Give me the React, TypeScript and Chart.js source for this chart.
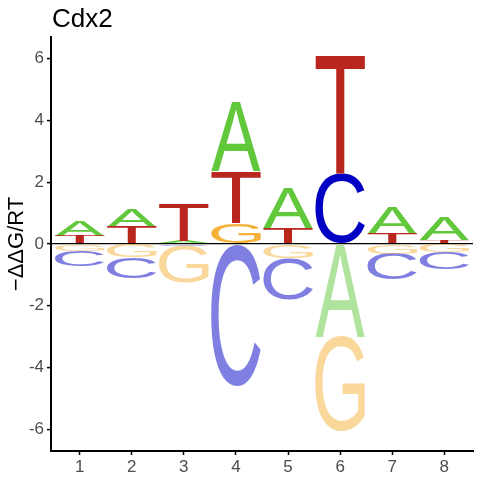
import { useEffect, useRef } from "react";
import { Chart, registerables } from "chart.js";

Chart.register(...registerables);

// positions along the motif
const positions = [1, 2, 3, 4, 5, 6, 7, 8];
const letters = ["A", "C", "G", "T"];

// -ddG/RT per base at each position
const aVals = [0.49, 0.59, 0.1, 2.26, 1.29, -3.02, 0.86, 0.74];
const cVals = [-0.51, -0.69, -0.08, -4.58, -1.33, 2.26, -0.84, -0.56];
const gVals = [-0.22, -0.43, -1.17, 0.67, -0.46, -3.05, -0.32, -0.27];
const tVals = [0.26, 0.56, 1.19, 1.67, 0.51, 3.83, 0.33, 0.11];

const yTicks = [-6, -4, -2, 0, 2, 4, 6];

const valuesByLetter: Record<string, number[]> = { A: aVals, C: cVals, G: gVals, T: tVals };
const letterColors: Record<string, string> = {
  A: "97,200,59",
  C: "0,0,196",
  G: "245,178,58",
  T: "184,38,30",
};

const FONT = '"Liberation Sans", Arial, sans-serif';

// stack letters: smallest magnitude next to zero, on each side
function stackRanges(letter: string) {
  return positions.map((p, i) => {
    const v = valuesByLetter[letter][i];
    const same = letters
      .map((l) => ({ l, v: valuesByLetter[l][i] }))
      .filter((c) => Math.sign(c.v) === Math.sign(v))
      .sort((a, b) => Math.abs(a.v) - Math.abs(b.v));
    let acc = 0;
    for (const c of same) {
      if (c.l === letter) break;
      acc += c.v;
    }
    return { x: p, y: [acc, acc + v] };
  });
}

const logoPlugin = {
  id: "logoLetters",
  afterDatasetsDraw(chart: any) {
    const ctx: CanvasRenderingContext2D = chart.ctx;
    chart.data.datasets.forEach((ds: any, di: number) => {
      const letter = ds.label as string;
      const meta = chart.getDatasetMeta(di);
      ctx.save();
      ctx.font = `200px ${FONT}`;
      const m = ctx.measureText(letter);
      const gl = m.actualBoundingBoxLeft;
      const gw = m.actualBoundingBoxLeft + m.actualBoundingBoxRight;
      const ga = m.actualBoundingBoxAscent;
      const gh = m.actualBoundingBoxAscent + m.actualBoundingBoxDescent;
      meta.data.forEach((el: any, i: number) => {
        const { x, y, base, width } = el.getProps(["x", "y", "base", "width"], true);
        const top = Math.min(y, base);
        const h = Math.abs(base - y);
        if (h < 0.5) return;
        const neg = valuesByLetter[letter][i] < 0;
        ctx.save();
        ctx.fillStyle = `rgba(${letterColors[letter]},${neg ? 0.5 : 1})`;
        ctx.textAlign = "left";
        ctx.textBaseline = "alphabetic";
        ctx.translate(x - width / 2, top);
        ctx.scale(width / gw, h / gh);
        ctx.fillText(letter, gl, ga);
        ctx.restore();
      });
      ctx.restore();
    });
    // title
    ctx.save();
    ctx.font = `26px ${FONT}`;
    ctx.fillStyle = "#000";
    ctx.textAlign = "left";
    ctx.textBaseline = "alphabetic";
    ctx.fillText("Cdx2", chart.chartArea.left + 1, 27);
    ctx.restore();
  },
};

function LogoChart() {
  const ref = useRef<HTMLCanvasElement>(null);

  useEffect(() => {
    if (!ref.current) return;
    const chart = new Chart(ref.current, {
      type: "bar",
      data: {
        datasets: letters.map((l) => ({
          label: l,
          data: stackRanges(l) as any,
          backgroundColor: "transparent",
          borderWidth: 0,
          grouped: false,
          barPercentage: 0.95,
          categoryPercentage: 1,
        })),
      },
      options: {
        responsive: true,
        maintainAspectRatio: false,
        animation: false,
        layout: { padding: { top: 37, right: 7, left: 0, bottom: 0 } },
        plugins: { legend: { display: false }, tooltip: { enabled: false } },
        scales: {
          x: {
            type: "linear",
            min: 0.45,
            max: 8.55,
            offset: false,
            afterBuildTicks: (s: any) => {
              s.ticks = positions.map((v) => ({ value: v }));
            },
            afterFit: (s: any) => {
              s.height = 29;
            },
            grid: { drawOnChartArea: false, offset: false, tickLength: 4, tickColor: "#000", tickWidth: 1.5 },
            border: { color: "#000", width: 2 },
            ticks: { color: "#4d4d4d", font: { size: 17, family: FONT }, padding: 2 },
          },
          y: {
            type: "linear",
            min: -6.7,
            max: 6.7,
            afterBuildTicks: (s: any) => {
              s.ticks = yTicks.map((v) => ({ value: v }));
            },
            afterFit: (s: any) => {
              s.width = 51;
            },
            grid: {
              color: (c: any) => (c.tick && c.tick.value === 0 ? "#000" : "transparent"),
              lineWidth: 1.2,
              tickLength: 4,
              tickColor: "#000",
              tickWidth: 1.5,
            },
            border: { color: "#000", width: 2 },
            ticks: { color: "#4d4d4d", font: { size: 17, family: FONT }, padding: 3 },
            title: {
              display: true,
              text: "\u2212\u0394\u0394G/RT",
              color: "#000",
              font: { size: 22, family: FONT },
              padding: { top: 4, bottom: 0 },
            },
          },
        },
      },
      plugins: [logoPlugin],
    });
    return () => chart.destroy();
  }, []);

  return <canvas ref={ref} />;
}

export default function App() {
  return (
    <div style={{ position: "fixed", left: 0, top: 0, width: 480, height: 480, background: "#fff" }}>
      <LogoChart />
    </div>
  );
}
